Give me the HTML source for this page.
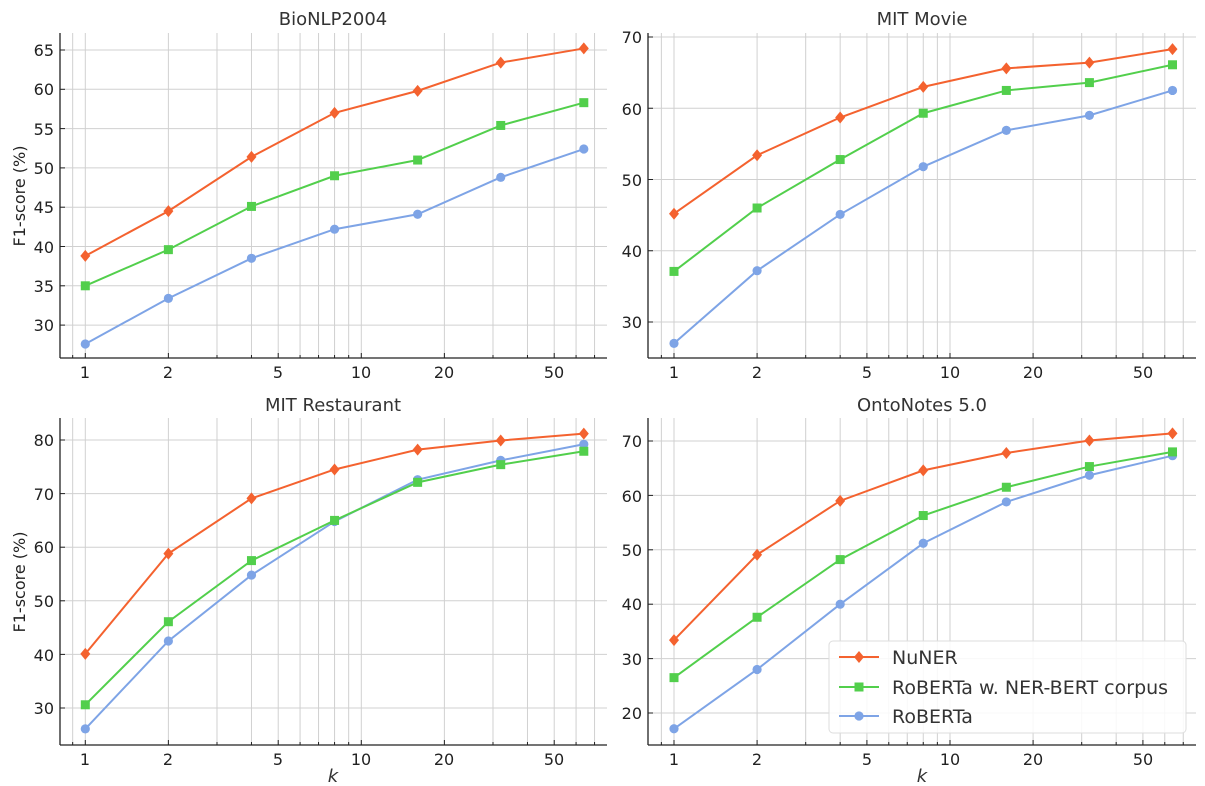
<!DOCTYPE html>
<html><head><meta charset="utf-8"><style>
body{margin:0;background:#fff}
svg{display:block;font-family:"DejaVu Sans","Liberation Sans",sans-serif}
.t{font-size:16px;fill:#222}
.ti{font-size:18px;fill:#333}
</style></head><body>
<svg id="s" width="1205" height="786" viewBox="0 0 1205 786">
<g id="g"></g>
<text class="ti" x="333" y="25" text-anchor="middle">BioNLP2004</text>
<text class="ti" x="922" y="25" text-anchor="middle">MIT Movie</text>
<text class="ti" x="333" y="411" text-anchor="middle">MIT Restaurant</text>
<text class="ti" x="922" y="411" text-anchor="middle">OntoNotes 5.0</text>
<text class="t" transform="translate(25,196) rotate(-90)" text-anchor="middle">F1-score (%)</text>
<text class="t" transform="translate(25,582) rotate(-90)" text-anchor="middle">F1-score (%)</text>
<text class="ti" x="333" y="782" text-anchor="middle" font-style="italic">k</text>
<text class="ti" x="922" y="782" text-anchor="middle" font-style="italic">k</text>
<g class="t" text-anchor="end">
<text x="54" y="56">65</text><text x="54" y="95">60</text><text x="54" y="135">55</text><text x="54" y="174">50</text><text x="54" y="213">45</text><text x="54" y="253">40</text><text x="54" y="292">35</text><text x="54" y="331">30</text>
<text x="642" y="43">70</text><text x="642" y="115">60</text><text x="642" y="186">50</text><text x="642" y="257">40</text><text x="642" y="328">30</text>
<text x="54" y="446">80</text><text x="54" y="500">70</text><text x="54" y="553">60</text><text x="54" y="607">50</text><text x="54" y="661">40</text><text x="54" y="714">30</text>
<text x="642" y="447">70</text><text x="642" y="502">60</text><text x="642" y="556">50</text><text x="642" y="610">40</text><text x="642" y="665">30</text><text x="642" y="719">20</text>
</g>
<g class="t" text-anchor="middle">
<text x="85" y="378">1</text><text x="168" y="378">2</text><text x="278" y="378">5</text><text x="361" y="378">10</text><text x="444" y="378">20</text><text x="554" y="378">50</text>
<text x="674" y="378">1</text><text x="757" y="378">2</text><text x="867" y="378">5</text><text x="950" y="378">10</text><text x="1033" y="378">20</text><text x="1143" y="378">50</text>
<text x="85" y="765">1</text><text x="168" y="765">2</text><text x="278" y="765">5</text><text x="361" y="765">10</text><text x="444" y="765">20</text><text x="554" y="765">50</text>
<text x="674" y="765">1</text><text x="757" y="765">2</text><text x="867" y="765">5</text><text x="950" y="765">10</text><text x="1033" y="765">20</text><text x="1143" y="765">50</text>
</g>
<g id="leg">
<rect x="829" y="641" width="357" height="92" rx="4" fill="#fff" fill-opacity="0.85" stroke="#ddd"/>
<text x="892" y="664" font-size="19" fill="#333">NuNER</text>
<text x="892" y="694" font-size="19" fill="#333">RoBERTa w. NER-BERT corpus</text>
<text x="892" y="723" font-size="19" fill="#333">RoBERTa</text>
</g>
</svg>
<script>
const g=document.getElementById('g');const NS='http://www.w3.org/2000/svg';
function el(n,a){const e=document.createElementNS(NS,n);for(const k in a)e.setAttribute(k,a[k]);g.appendChild(e);return e;}
const K=[1,2,4,8,16,32,64];
const C=['#f4622f','#52cf4c','#7ea4e6'];
const P=[
{x0:60,x1:607,o:85.3,y0:33,y1:358,ref:65,ry:50,s:7.86,yt:[30,35,40,45,50,55,60,65],d:[[38.8,44.5,51.4,57.0,59.8,63.4,65.2],[35.0,39.6,45.1,49.0,51.0,55.4,58.3],[27.6,33.4,38.5,42.2,44.1,48.8,52.4]]},
{x0:648,x1:1196,o:674,y0:33,y1:358,ref:70,ry:37,s:7.125,yt:[30,40,50,60,70],d:[[45.2,53.4,58.7,63.0,65.6,66.4,68.3],[37.1,46.0,52.8,59.3,62.5,63.6,66.1],[27.0,37.2,45.1,51.8,56.9,59.0,62.5]]},
{x0:60,x1:607,o:85.3,y0:418,y1:745,ref:80,ry:440,s:5.36,yt:[30,40,50,60,70,80],d:[[40.1,58.8,69.1,74.5,78.2,79.9,81.2],[30.6,46.1,57.5,65.0,72.1,75.4,77.9],[26.1,42.5,54.8,64.8,72.6,76.2,79.2]]},
{x0:648,x1:1196,o:674,y0:418,y1:745,ref:70,ry:441,s:5.44,yt:[20,30,40,50,60,70],d:[[33.4,49.1,59.0,64.6,67.8,70.1,71.4],[26.5,37.6,48.2,56.3,61.5,65.3,68.0],[17.1,28.0,40.0,51.2,58.8,63.7,67.3]]}];
const minors=[0.9,3,4,6,7,8,9,30,40,60,70];const majors=[1,2,5,10,20,50];
P.forEach(p=>{
 const X=k=>p.o+Math.log10(k)*276, Y=v=>p.ry+(p.ref-v)*p.s;
 [...minors,...majors].forEach(k=>{const x=X(k);el('line',{x1:x,x2:x,y1:p.y0,y2:p.y1,stroke:'#d0d0d0','stroke-width':1});
  const maj=majors.includes(k);el('line',{x1:x,x2:x,y1:p.y1,y2:p.y1-(maj?5:3),stroke:'#222','stroke-width':1});});
 p.yt.forEach(v=>{const y=Y(v);el('line',{x1:p.x0,x2:p.x1,y1:y,y2:y,stroke:'#d0d0d0','stroke-width':1});el('line',{x1:p.x0,x2:p.x0+5,y1:y,y2:y,stroke:'#222'});});
 el('line',{x1:p.x0,x2:p.x0,y1:p.y0,y2:p.y1,stroke:'#222','stroke-width':1.3});
 el('line',{x1:p.x0,x2:p.x1,y1:p.y1,y2:p.y1,stroke:'#222','stroke-width':1.3});
 [2,1,0].forEach(i=>{const pts=K.map((k,j)=>[X(k),Y(p.d[i][j])]);
  el('polyline',{points:pts.map(q=>q.join(',')).join(' '),fill:'none',stroke:C[i],'stroke-width':2});
  pts.forEach(q=>mark(i,q[0],q[1]));});
});
function mark(i,x,y){if(i==0)el('path',{d:`M${x},${y-6}L${x+5},${y}L${x},${y+6}L${x-5},${y}Z`,fill:C[0]});
 else if(i==1)el('rect',{x:x-4.5,y:y-4.5,width:9,height:9,fill:C[1]});else el('circle',{cx:x,cy:y,r:4.6,fill:C[2]});}
const leg=document.getElementById('leg');
[[657,0],[687,1],[716,2]].forEach(([y,i])=>{const l=document.createElementNS(NS,'line');l.setAttribute('x1',839);l.setAttribute('x2',879);l.setAttribute('y1',y);l.setAttribute('y2',y);l.setAttribute('stroke',C[i]);l.setAttribute('stroke-width',2);leg.appendChild(l);
 mark(i,859,y);leg.appendChild(g.lastChild);});
</script>
</body></html>
